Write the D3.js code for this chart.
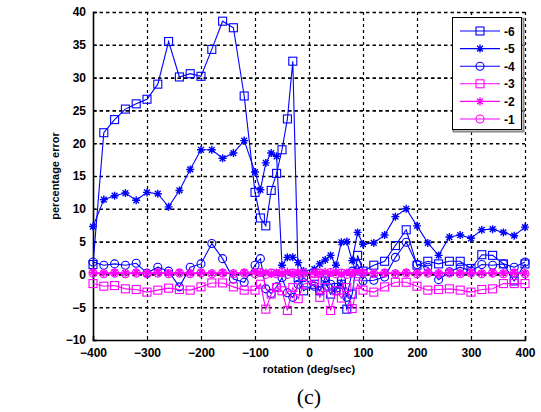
<!DOCTYPE html>
<html>
<head>
<meta charset="utf-8">
<script src="https://cdn.jsdelivr.net/npm/d3@7"></script>
<style>
  html, body { margin: 0; padding: 0; background: #ffffff; }
  svg { display: block; }
  text { font-family: Arial, "Liberation Sans", sans-serif; }
</style>
</head>
<body>
<svg id="chart" width="541" height="412"></svg>
<script>
// Rotation rates (deg/sec) at which the error was measured
const rotation = [-400,-380,-360,-340,-320,-300,-280,-260,-240,-220,-200,-180,-160,-140,-120,-100,
  -90,-80,-70,-60,-50,-40,-30,-20,-10,
  10,20,30,40,50,60,70,80,90,
  100,120,140,160,180,200,220,240,260,280,300,320,340,360,380,400];

// Percentage error per series
const err6 = [1.5,21.6,23.6,25.2,26.0,26.7,29.0,35.5,30.1,30.6,30.2,34.3,38.6,37.6,27.2,12.5,
  8.6,7.4,12.8,15.4,19.0,23.7,32.5,-0.5,-2.5,
  -1.5,-2.5,-1.0,-3.0,-2.0,-1.5,-5.3,-3.0,2.9,
  0.5,1.4,2.0,4.4,6.8,1.4,2.0,1.6,2.0,2.0,0.9,3.0,2.9,1.6,-1.0,1.6];
const err5 = [7.3,11.4,12.0,12.4,11.3,12.5,12.3,10.3,12.8,16.0,19.0,19.0,17.7,18.5,20.4,15.6,
  12.9,17.0,18.5,18.0,1.4,2.6,2.6,1.8,0.5,
  0.8,1.6,2.2,2.9,1.4,4.9,5.0,2.1,6.4,
  4.6,4.8,6.0,8.8,10.0,7.4,4.8,2.9,5.7,6.0,5.5,6.8,6.9,6.4,5.9,7.2];
const err4 = [1.9,1.4,1.6,1.4,1.7,0.2,1.1,0.5,-1.9,1.1,1.6,4.7,2.4,-0.7,-1.2,1.4,
  2.4,-2.2,-2.9,-1.9,-0.5,-2.8,-3.5,-1.5,-0.5,
  -1.8,-2.5,-0.5,-1.5,-2.5,-0.8,-3.5,0.5,1.5,
  -1.0,-0.9,-0.4,2.6,4.9,1.5,1.1,-0.8,0.4,1.1,0.5,1.5,1.4,1.6,1.1,1.9];
const err3 = [-1.4,-1.8,-1.7,-2.2,-2.3,-2.7,-2.4,-2.1,-2.3,-2.4,-1.9,-1.3,-1.3,-1.9,-2.4,-2.4,
  -1.5,-5.3,-3.0,-2.0,-2.5,-5.5,-2.0,-3.7,-1.5,
  -1.0,-3.5,-2.0,-5.5,-2.5,-3.6,-2.0,-5.2,-1.5,
  -2.4,-2.7,-1.9,-1.2,-1.2,-1.8,-2.4,-2.3,-2.2,-2.4,-2.7,-2.3,-2.2,-1.4,-1.4,-1.4];
const err2 = [0.3,0.2,0.3,0.2,0.3,0.2,0.3,0.2,0.3,0.2,0.3,0.2,0.3,0.2,0.3,0.4,
  0.2,0.3,0.1,0.3,0.2,0.4,0.2,0.3,0.2,
  0.3,0.2,0.4,0.2,0.3,0.1,0.3,0.2,0.4,
  0.3,0.2,0.3,0.2,0.3,0.2,0.3,0.2,0.3,0.2,0.3,0.2,0.3,0.2,0.3,0.2];
const err1 = [0.2,0.1,0.2,0.1,0.2,0.1,0.2,0.1,0.2,0.1,0.2,0.1,0.2,0.1,0.2,0.1,
  0.3,0.0,0.2,0.1,0.3,0.0,0.2,0.1,0.2,
  0.1,0.2,0.0,0.3,0.1,0.2,0.0,0.2,0.1,
  0.2,0.1,0.2,0.1,0.2,0.1,0.2,0.1,0.2,0.1,0.2,0.1,0.2,0.1,0.2,0.1];

const seriesNames = ["-6","-5","-4","-3","-2","-1"];
const seriesValues = [err6, err5, err4, err3, err2, err1];
const seriesColors = ["#0000ff","#0000ff","#0000ff","#ff00ff","#ff00ff","#ff00ff"];
const seriesMarkers = ["square","star","circle","square","star","circle"];

const xTicks = [-400,-300,-200,-100,0,100,200,300,400];
const yTicks = [-10,-5,0,5,10,15,20,25,30,35,40];

const svg = d3.select("#chart");
const plot = { left: 93, right: 525, top: 12, bottom: 340 };

const x = d3.scaleLinear().domain([-400, 400]).range([plot.left, plot.right]);
const y = d3.scaleLinear().domain([-10, 40]).range([plot.bottom, plot.top]);

// dotted grid
const grid = svg.append("g");
grid.selectAll("line.gx").data(xTicks.slice(1)).join("line")
  .attr("x1", d => x(d) + 0.5).attr("x2", d => x(d) + 0.5)
  .attr("y1", plot.top).attr("y2", plot.bottom)
  .attr("stroke", "#000").attr("stroke-width", 1.2).attr("stroke-dasharray", "3,3");
grid.selectAll("line.gy").data(yTicks.slice(1)).join("line")
  .attr("x1", plot.left).attr("x2", plot.right)
  .attr("y1", d => y(d) + 0.5).attr("y2", d => y(d) + 0.5)
  .attr("stroke", "#000").attr("stroke-width", 1.6).attr("stroke-dasharray", "3.5,3");

// axes
const xAxis = d3.axisBottom(x).tickValues(xTicks).tickSize(-4).tickPadding(8).tickFormat(d3.format("d"));
const yAxis = d3.axisLeft(y).tickValues(yTicks).tickSize(-4).tickPadding(7).tickFormat(d3.format("d"));

const gx = svg.append("g").attr("transform", `translate(0,${plot.bottom})`).call(xAxis);
const gy = svg.append("g").attr("transform", `translate(${plot.left},0)`).call(yAxis);
[gx, gy].forEach(g => {
  g.select(".domain").attr("stroke", "#000").attr("stroke-width", 1.6);
  g.selectAll(".tick line").attr("stroke", "#000");
  g.selectAll(".tick text").attr("fill", "#000").attr("font-size", 12).attr("font-weight", "bold");
});

// axis titles
svg.append("text").attr("x", 309).attr("y", 373).attr("text-anchor", "middle")
  .attr("font-size", 11).attr("font-weight", "bold").text("rotation (deg/sec)");
svg.append("text").attr("transform", "translate(59,176) rotate(-90)").attr("text-anchor", "middle")
  .attr("font-size", 11).attr("font-weight", "bold").text("percentage error");
svg.append("text").attr("x", 309).attr("y", 404).attr("text-anchor", "middle")
  .style("font-family", "'Times New Roman', 'Liberation Serif', serif").attr("font-size", 22).text("(c)");

// marker drawing
function drawMarker(g, kind, color) {
  if (kind === "square") {
    g.append("rect").attr("x", -4).attr("y", -4).attr("width", 8).attr("height", 8)
      .attr("fill", "none").attr("stroke", color).attr("stroke-width", 1.1);
  } else if (kind === "circle") {
    g.append("circle").attr("r", 4).attr("fill", "none").attr("stroke", color).attr("stroke-width", 1.1);
  } else {
    const r = 4;
    const d = `M${-r},0L${r},0M0,${-r}L0,${r}M${-r*0.72},${-r*0.72}L${r*0.72},${r*0.72}M${-r*0.72},${r*0.72}L${r*0.72},${-r*0.72}`;
    g.append("path").attr("d", d).attr("stroke", color).attr("stroke-width", 1.4).attr("fill", "none");
  }
}

const line = d3.line().x(d => x(d[0])).y(d => y(d[1]));
const dataLayer = svg.append("g");

seriesValues.forEach((vals, i) => {
  const pts = rotation.map((r, k) => [r, vals[k]]);
  const g = dataLayer.append("g");
  g.append("path").datum(pts).attr("d", line)
    .attr("fill", "none").attr("stroke", seriesColors[i]).attr("stroke-width", 1.1);
  pts.forEach(p => {
    const m = g.append("g").attr("transform", `translate(${x(p[0])},${y(p[1])})`);
    drawMarker(m, seriesMarkers[i], seriesColors[i]);
  });
});

// legend
const lg = svg.append("g").attr("transform", "translate(452,17)");
lg.append("rect").attr("x", 1.5).attr("y", 1.5).attr("width", 70).attr("height", 113)
  .attr("fill", "none").attr("stroke", "#888").attr("stroke-width", 2);
lg.append("rect").attr("x", 0.5).attr("y", 0.5).attr("width", 69).attr("height", 112)
  .attr("fill", "#fff").attr("stroke", "#000").attr("stroke-width", 1);
seriesNames.forEach((name, i) => {
  const yy = 14 + i * 17.6;
  lg.append("line").attr("x1", 8).attr("x2", 48).attr("y1", yy).attr("y2", yy)
    .attr("stroke", seriesColors[i]).attr("stroke-width", 1.1);
  const m = lg.append("g").attr("transform", `translate(28,${yy})`);
  drawMarker(m, seriesMarkers[i], seriesColors[i]);
  lg.append("text").attr("x", 52).attr("y", yy + 4.5).attr("font-size", 12)
    .attr("font-weight", "bold").attr("fill", "#000").text(name);
});
</script>
</body>
</html>
